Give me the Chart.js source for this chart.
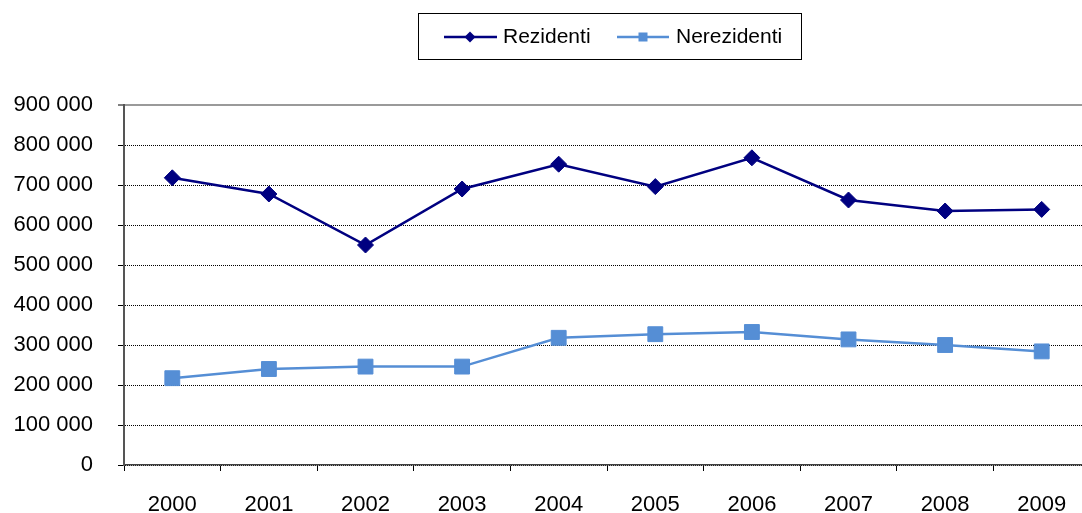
<!DOCTYPE html>
<html>
<head>
<meta charset="utf-8">
<script src="https://cdn.jsdelivr.net/npm/chart.js@4/dist/chart.umd.min.js"></script>
<style>
  html, body { margin: 0; padding: 0; background: #fff; overflow: hidden; }
  /* the plot runs a few pixels past the right edge of the page */
  #wrap { width: 1092px; height: 513px; position: relative; }
  canvas { display: block; }
</style>
</head>
<body>
<div id="wrap"><canvas id="c" width="1092" height="513"></canvas></div>
<script>
// Years on the category axis
const years = ['2000', '2001', '2002', '2003', '2004', '2005', '2006', '2007', '2008', '2009'];

// Series values
const rezidenti = [718000, 677500, 550000, 690000, 752000, 696000, 768000, 662500, 635000, 639000];
const nerezidenti = [217000, 240000, 246000, 246000, 318000, 327000, 332500, 314000, 300000, 284000];

// Value axis range
const yMin = 0;
const yMax = 900000;
const yStep = 100000;

const seriesNames = ['Rezidenti', 'Nerezidenti'];
const darkBlue = '#000080';
const lightBlue = '#558ED5';
const FONT = '"Liberation Sans", Arial, sans-serif';

function formatThousands(v) {
  return String(v).replace(/\B(?=(\d{3})+(?!\d))/g, ' ');
}

// Boxed legend with a line-and-marker sample for each series
const boxedLegend = {
  id: 'boxedLegend',
  afterDraw(chart) {
    const ctx = chart.ctx;
    ctx.save();
    ctx.strokeStyle = '#000';
    ctx.lineWidth = 1;
    ctx.strokeRect(418.5, 13.5, 383, 46);

    const cy = 37;
    // Rezidenti sample
    ctx.strokeStyle = darkBlue;
    ctx.lineWidth = 2.5;
    ctx.beginPath(); ctx.moveTo(444, cy); ctx.lineTo(497, cy); ctx.stroke();
    ctx.fillStyle = darkBlue;
    ctx.beginPath();
    ctx.moveTo(470, cy - 5.5); ctx.lineTo(475.5, cy); ctx.lineTo(470, cy + 5.5); ctx.lineTo(464.5, cy);
    ctx.closePath(); ctx.fill();

    // Nerezidenti sample
    ctx.strokeStyle = lightBlue;
    ctx.beginPath(); ctx.moveTo(617, cy); ctx.lineTo(669, cy); ctx.stroke();
    ctx.fillStyle = lightBlue;
    ctx.fillRect(638.5, cy - 4.5, 9, 9);

    ctx.fillStyle = '#000';
    ctx.font = '21px ' + FONT;
    ctx.textBaseline = 'middle';
    ctx.textAlign = 'left';
    ctx.fillText(seriesNames[0], 503, cy);
    ctx.fillText(seriesNames[1], 676, cy);
    ctx.restore();
  }
};

new Chart(document.getElementById('c'), {
  type: 'line',
  data: {
    labels: years,
    datasets: [
      {
        label: seriesNames[0],
        data: rezidenti,
        borderColor: darkBlue,
        backgroundColor: darkBlue,
        borderWidth: 2.5,
        pointStyle: 'rectRot',
        pointRadius: 8,
        pointBorderWidth: 1,
        pointBackgroundColor: darkBlue,
        pointBorderColor: darkBlue,
        tension: 0
      },
      {
        label: seriesNames[1],
        data: nerezidenti,
        borderColor: lightBlue,
        backgroundColor: lightBlue,
        borderWidth: 2.5,
        pointStyle: 'rect',
        pointRadius: 10.5,
        pointBorderWidth: 1,
        pointBackgroundColor: lightBlue,
        pointBorderColor: lightBlue,
        tension: 0
      }
    ]
  },
  options: {
    responsive: false,
    maintainAspectRatio: false,
    animation: false,
    devicePixelRatio: 1,
    layout: { autoPadding: false, padding: { top: 105, right: 2, left: 0, bottom: 0 } },
    plugins: {
      legend: { display: false },
      tooltip: { enabled: false },
      title: { display: false }
    },
    scales: {
      x: {
        type: 'category',
        offset: true,
        afterFit(s) { s.height = 48; },
        grid: {
          offset: true,
          drawOnChartArea: false,
          drawTicks: true,
          tickLength: 6,
          tickColor: '#000',
          tickWidth: 1
        },
        border: { display: true, color: '#404040', width: 1.5 },
        ticks: {
          color: '#000',
          font: { family: FONT, size: 22 },
          padding: 21,
          maxRotation: 0,
          autoSkip: false
        }
      },
      y: {
        min: yMin,
        max: yMax,
        afterFit(s) { s.width = 124; },
        grid: {
          color: (c) => (c.tick && c.tick.value === yMax ? '#9a9a9a' : '#000'),
          lineWidth: (c) => (c.tick && c.tick.value === yMax ? 2 : 1),
          drawTicks: true,
          tickLength: 6,
          tickColor: '#000',
          tickWidth: 1
        },
        border: {
          display: true,
          color: '#555',
          width: 2,
          dash: (c) => (c.tick && c.tick.value === yMax ? [] : [1, 1])
        },
        ticks: {
          stepSize: yStep,
          color: '#000',
          font: { family: FONT, size: 22 },
          padding: 25,
          callback: (v) => formatThousands(v)
        }
      }
    }
  },
  plugins: [boxedLegend]
});
</script>
</body>
</html>
